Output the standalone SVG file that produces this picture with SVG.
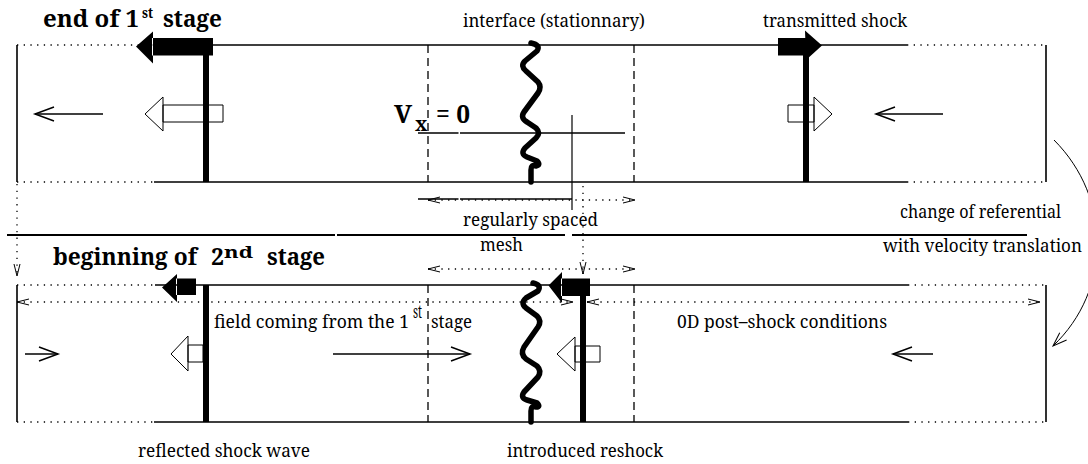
<svg xmlns="http://www.w3.org/2000/svg" width="1088" height="464" viewBox="0 0 1088 464">
<defs>
<style>
.tube{stroke:#000;stroke-width:1.6;fill:none}
.dot{stroke:#000;stroke-width:1.3;stroke-dasharray:1.3 5.4;fill:none}
.dash{stroke:#000;stroke-width:1.3;stroke-dasharray:8 5;fill:none}
.shock{stroke:#000;stroke-width:6;fill:none}
.wave{stroke:#000;stroke-width:5.5;fill:none;stroke-linecap:round;stroke-linejoin:round}
.hollow{fill:#fff;stroke:#000;stroke-width:1}
.solid{fill:#000;stroke:none}
.thin{stroke:#000;stroke-width:1.5;fill:none}
.hair{stroke:#000;stroke-width:1.2;fill:none}
text{fill:#000}
.t{font-size:18px}
.b{font-weight:bold}
</style>
<marker id="vh" markerUnits="userSpaceOnUse" orient="auto-start-reverse" refX="0" refY="0" markerWidth="1" markerHeight="1" style="overflow:visible">
<path d="M-19,-7 L0,0 L-19,7" fill="none" stroke="#000" stroke-width="1.5"/>
</marker>
<marker id="sh" markerUnits="userSpaceOnUse" orient="auto-start-reverse" refX="0" refY="0" markerWidth="1" markerHeight="1" style="overflow:visible">
<path d="M-12,-3 L0,0 L-12,3" fill="none" stroke="#000" stroke-width="1"/>
</marker>
<marker id="ch" markerUnits="userSpaceOnUse" orient="auto" refX="0" refY="0" markerWidth="1" markerHeight="1" style="overflow:visible">
<path d="M-14,-5 L0,0 L-14,5" fill="none" stroke="#000" stroke-width="1"/>
</marker>
</defs>

<g font-family="'Noto Serif', 'DejaVu Serif', serif">

<g id="stage1">
  <text class="b" x="43" y="27" font-size="23" textLength="96" lengthAdjust="spacingAndGlyphs">end of 1</text>
  <text class="b" x="142" y="18" font-size="14" textLength="11" lengthAdjust="spacingAndGlyphs">st</text>
  <text class="b" x="163" y="27" font-size="23" textLength="59" lengthAdjust="spacingAndGlyphs">stage</text>
  <path class="dot" d="M17,45 H153 M907,45 H1046 M17,182 H154 M907,182 H1046"/>
  <path class="tube" d="M153,45 H907 M154,182 H907 M17,45 V182 M1046,45 V182"/>
  <path class="dash" d="M428,45 V182 M634,45 V182"/>
</g>

<g id="stage1-reflected">
  <path class="hollow" d="M163,105 H223 V122 H163 Z M163,97 L145,114 L163,131 Z"/>
  <path class="shock" d="M206,46 V182"/>
  <path class="solid" d="M152,38 H213 V55.5 H152 Z M153,31.5 L136,46.5 L153,63.5 Z"/>
</g>

<g id="stage1-transmitted">
  <path class="hollow" d="M788,105 H814 V122 H788 Z M814,97 L832,114 L814,131 Z"/>
  <path class="shock" d="M806,46 V182"/>
  <path class="solid" d="M778,38 H806 V55.5 H778 Z M805,30.5 L822,45.5 L806,60 Z"/>
  <text class="t" x="763" y="27" textLength="144" lengthAdjust="spacingAndGlyphs">transmitted shock</text>
</g>

<g id="stage1-interface">
  <text class="t" x="463" y="27" textLength="182" lengthAdjust="spacingAndGlyphs">interface (stationnary)</text>
  <path class="wave" d="M531,43 Q541,45 537,51 L525,61 Q520,66 526,71 L538,82 Q542,87 538,93 L524,112 Q520,118 527,122 L536,128 Q541,133 536,138 L525,148 Q520,154 527,157 L537,161 Q541,165 536,166 Q531,164 531,170 L531,182"/>
</g>

<g id="velocity-axis">
  <text class="b" x="394" y="123" font-size="26">V</text>
  <text class="b" x="415" y="131" font-size="19">x</text>
  <text class="b" x="436" y="123" font-size="26" textLength="34" lengthAdjust="spacingAndGlyphs">= 0</text>
  <path class="thin" d="M418,133 H458.5 M460,133 H625 M418,199 H458.5 M460,199 H572"/>
  <path class="hair" d="M572,115 V210"/>
</g>

<g id="mesh-label">
  <text class="t" x="463" y="226" textLength="135" lengthAdjust="spacingAndGlyphs">regularly spaced</text>
  <text class="t" x="480" y="251" textLength="43" lengthAdjust="spacingAndGlyphs">mesh</text>
</g>

<g id="separator">
  <path d="M7,235 H335 M337,235 H565 M572,235 H1027" stroke="#000" stroke-width="2" fill="none"/>
</g>

<g id="referential-label">
  <text class="t" x="900" y="218" textLength="161" lengthAdjust="spacingAndGlyphs">change of referential</text>
  <text class="t" x="883" y="252" font-size="17" textLength="199" lengthAdjust="spacingAndGlyphs">with velocity translation</text>
</g>

<g id="stage2">
  <text class="b" x="53" y="265" font-size="23" textLength="144" lengthAdjust="spacingAndGlyphs">beginning of</text>
  <text class="b" x="211" y="265" font-size="23">2</text>
  <text class="b" x="224" y="258" font-size="17" textLength="29" lengthAdjust="spacingAndGlyphs">nd</text>
  <text class="b" x="267" y="265" font-size="23" textLength="58" lengthAdjust="spacingAndGlyphs">stage</text>
  <path class="dot" d="M17,285 H155 M908,285 H1046 M17,422 H154 M908,422 H1046"/>
  <path class="tube" d="M155,285 H908 M154,422 H908 M17,285 V422 M1046,285 V422"/>
  <path class="dash" d="M428,285 V422 M634,285 V422"/>
  <text class="t" x="214" y="328" textLength="195" lengthAdjust="spacingAndGlyphs">field coming from the 1</text>
  <text class="t" x="413" y="318" font-size="11" textLength="9" lengthAdjust="spacingAndGlyphs">st</text>
  <text class="t" x="431" y="328" textLength="41" lengthAdjust="spacingAndGlyphs">stage</text>
  <text class="t" x="677" y="328" textLength="210" lengthAdjust="spacingAndGlyphs">0D post–shock conditions</text>
</g>

<g id="stage2-interface">
  <path class="wave" d="M533,283 Q542,285 538,291 L526,298 Q520,303 526,308 L537,316 Q542,321 538,327 L524,347 Q520,354 526,359 L537,366 Q542,371 538,377 L524,392 Q520,398 527,400 L537,403 Q541,407 536,407 Q531,405 531,411 L531,422"/>
</g>

<g id="stage2-reflected">
  <path class="hollow" d="M188,345 H203 V362 H188 Z M188,336 L171,354 L188,371 Z"/>
  <path class="shock" d="M206,285 V422"/>
  <path class="solid" d="M176,278.5 H196 V295 H176 Z M177,274 L162,287.5 L177,302 Z"/>
  <text class="t" x="138" y="457" textLength="172" lengthAdjust="spacingAndGlyphs">reflected shock wave</text>
</g>

<g id="stage2-reshock">
  <path class="hollow" d="M575,346 H600 V362 H575 Z M575,337 L557,354 L575,371 Z"/>
  <path class="shock" d="M583,290 V422"/>
  <path class="solid" d="M561,278.5 H590 V296 H561 Z M562,272 L548.5,285.5 L562,303 Z"/>
  <text class="t" x="507" y="457" textLength="156" lengthAdjust="spacingAndGlyphs">introduced reshock</text>
</g>

</g>

<g id="connectors">
  <path class="thin" d="M103,114 H35" marker-end="url(#vh)"/>
  <path class="thin" d="M943,114 H876" marker-end="url(#vh)"/>
  <path class="thin" d="M25,354 H58" marker-end="url(#vh)"/>
  <path class="thin" d="M333,354 H470" marker-end="url(#vh)"/>
  <path class="thin" d="M933,354 H893" marker-end="url(#vh)"/>
  <path class="dot" d="M428,200 H635" marker-start="url(#sh)" marker-end="url(#sh)"/>
  <path class="dot" d="M428,269 H635" marker-start="url(#sh)" marker-end="url(#sh)"/>
  <path class="dot" d="M17,302 H573" marker-start="url(#sh)" marker-end="url(#sh)"/>
  <path class="dot" d="M587,302 H1040" marker-start="url(#sh)" marker-end="url(#sh)"/>
  <path class="dot" d="M17,184 V276" marker-end="url(#sh)"/>
  <path class="dot" d="M583,186 V274" marker-end="url(#sh)"/>
  <path d="M1054,140 C1112,198 1112,290 1053,346" fill="none" stroke="#000" stroke-width="1" marker-end="url(#ch)"/>
</g>
</svg>
